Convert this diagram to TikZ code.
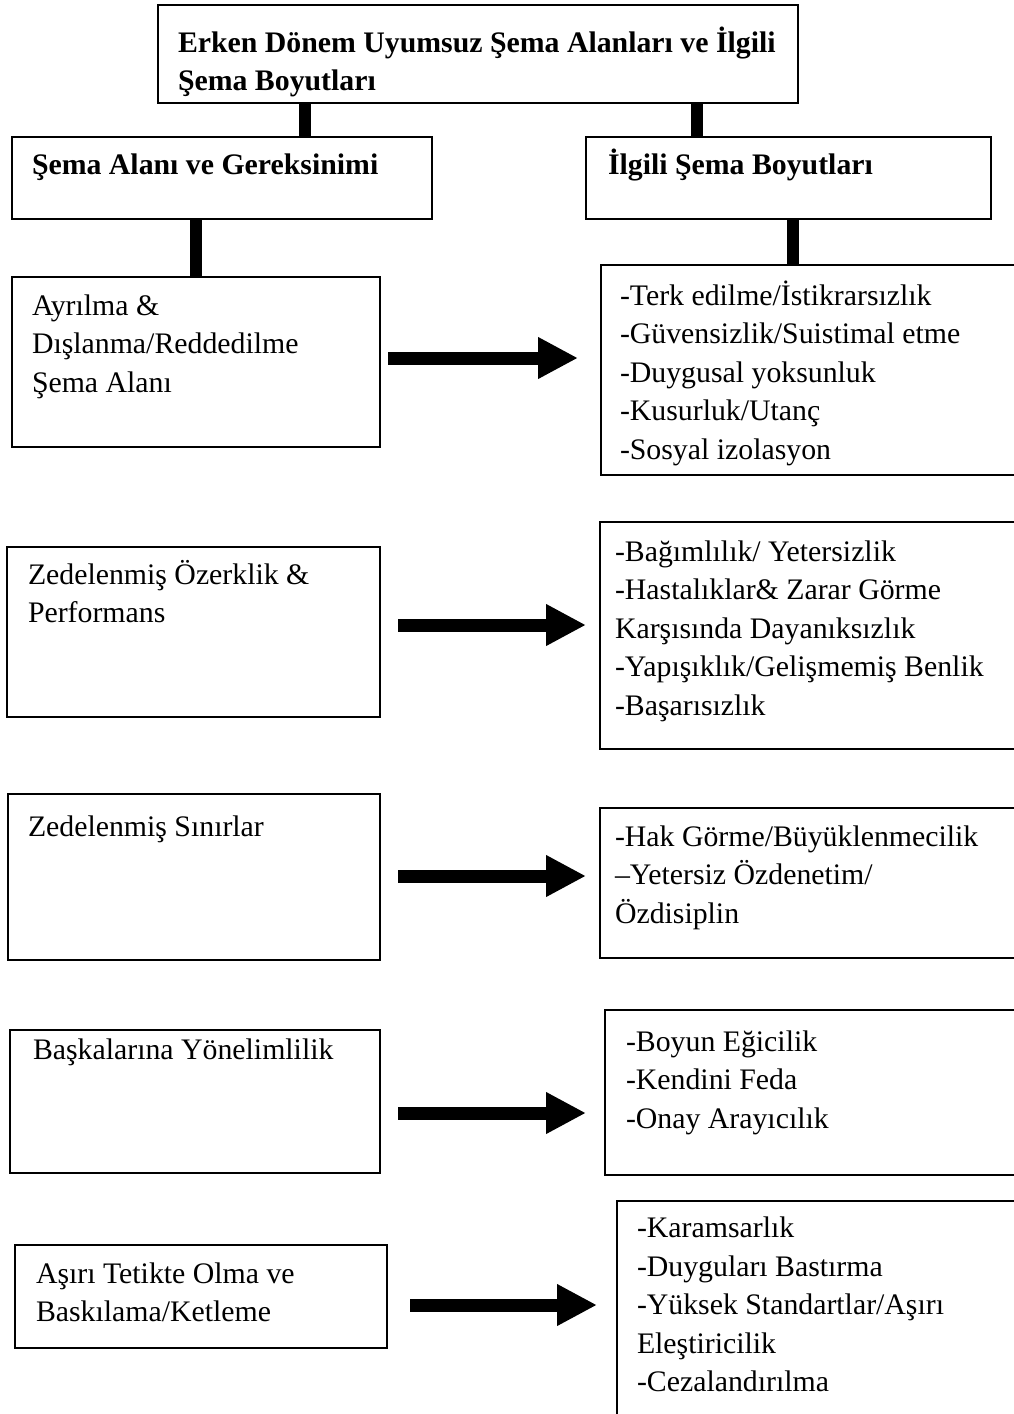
\documentclass[tikz,border=0pt]{standalone}
\usepackage{fontspec}
\setmainfont{Liberation Serif}
\usetikzlibrary{arrows.meta}
\begin{document}
\begin{tikzpicture}[x=1pt,y=-1pt,
  box/.style={draw=black, line width=1.6pt, anchor=north west, inner sep=0pt, outer sep=0pt},
  txt/.style={anchor=north west, inner sep=0pt, outer sep=0pt, align=left,
              font=\fontsize{29.8}{38.5}\selectfont},
  head/.style={txt, font=\fontsize{29.8}{38}\selectfont\bfseries},
  bar/.style={line width=12.5pt},
  bigarrow/.style={line width=13pt, -{Triangle[length=40pt,width=39pt]}}
]
\clip (0,0) rectangle (1014,1414);
\fill[white] (0,0) rectangle (1014,1414);

% header boxes
\node[box, minimum width=640pt, minimum height=98pt] (title) at (158,5) {};
\node[head] (titletxt) at (178,25.5) {\strut Erken Dönem Uyumsuz Şema Alanları ve İlgili\\Şema Boyutları};

\node[box, minimum width=420pt, minimum height=82pt] (sa) at (12,137) {};
\node[head] (satxt) at (32,148) {\strut Şema Alanı ve Gereksinimi};

\node[box, minimum width=405pt, minimum height=82pt] (ib) at (586,137) {};
\node[head] (ibtxt) at (608,148) {\strut İlgili Şema Boyutları};

% schema domains (left column)
\node[box, minimum width=368pt, minimum height=170pt] (L1) at (12,277) {};
\node[txt] (L1t) at (32,288.4) {\strut Ayrılma \&\\Dışlanma/Reddedilme\\Şema Alanı};

\node[box, minimum width=373pt, minimum height=170pt] (L2) at (7,547) {};
\node[txt] (L2t) at (28,557.4) {\strut Zedelenmiş Özerklik \&\\Performans};

\node[box, minimum width=372pt, minimum height=166pt] (L3) at (8,794) {};
\node[txt] (L3t) at (28,809.4) {\strut Zedelenmiş Sınırlar};

\node[box, minimum width=370pt, minimum height=143pt] (L4) at (10,1030) {};
\node[txt] (L4t) at (33,1032.4) {\strut Başkalarına Yönelimlilik};

\node[box, minimum width=372pt, minimum height=103pt] (L5) at (15,1245) {};
\node[txt] (L5t) at (36,1256.4) {\strut Aşırı Tetikte Olma ve\\Baskılama/Ketleme};

% schema dimensions (right column)
\node[box, minimum width=430pt, minimum height=210pt] (R1) at (601,265) {};
\node[txt] (R1t) at (620,278.4) {\strut -Terk edilme/İstikrarsızlık\\-Güvensizlik/Suistimal etme\\-Duygusal yoksunluk\\-Kusurluk/Utanç\\-Sosyal izolasyon};

\node[box, minimum width=430pt, minimum height=227pt] (R2) at (600,522) {};
\node[txt] (R2t) at (615,534.4) {\strut -Bağımlılık/ Yetersizlik\\-Hastalıklar\& Zarar Görme\\Karşısında Dayanıksızlık\\-Yapışıklık/Gelişmemiş Benlik\\-Başarısızlık};

\node[box, minimum width=430pt, minimum height=150pt] (R3) at (600,808) {};
\node[txt] (R3t) at (615,819.4) {\strut -Hak Görme/Büyüklenmecilik\\–Yetersiz Özdenetim/\\Özdisiplin};

\node[box, minimum width=430pt, minimum height=165pt] (R4) at (605,1010) {};
\node[txt] (R4t) at (626,1024.4) {\strut -Boyun Eğicilik\\-Kendini Feda\\-Onay Arayıcılık};

\node[box, minimum width=430pt, minimum height=240pt] (R5) at (617,1201) {};
\node[txt] (R5t) at (637,1211) {\strut -Karamsarlık\\-Duyguları Bastırma\\-Yüksek Standartlar/Aşırı\\Eleştiricilik\\-Cezalandırılma};

% thick connectors between the header boxes
\draw[bar] ([xshift=147pt]title.south west) -- ([xshift=147pt]title.south west |- sa.north);
\draw[bar] ([xshift=539pt]title.south west) -- ([xshift=539pt]title.south west |- ib.north);
\draw[bar] ([xshift=184pt]sa.south west) -- ([xshift=184pt]sa.south west |- L1.north);
\draw[bar] ([xshift=207pt]ib.south west) -- ([xshift=207pt]ib.south west |- R1.north);

% block arrows from each domain to its dimensions
\coordinate (a1s) at (388,358);  \coordinate (a1e) at (578,358);
\coordinate (a2s) at (398,625);  \coordinate (a2e) at (586,625);
\coordinate (a3s) at (398,876);  \coordinate (a3e) at (586,876);
\coordinate (a4s) at (398,1113); \coordinate (a4e) at (586,1113);
\coordinate (a5s) at (410,1305); \coordinate (a5e) at (597,1305);
\draw[bigarrow] (a1s) -- (a1e);
\draw[bigarrow] (a2s) -- (a2e);
\draw[bigarrow] (a3s) -- (a3e);
\draw[bigarrow] (a4s) -- (a4e);
\draw[bigarrow] (a5s) -- (a5e);
\end{tikzpicture}
\end{document}
